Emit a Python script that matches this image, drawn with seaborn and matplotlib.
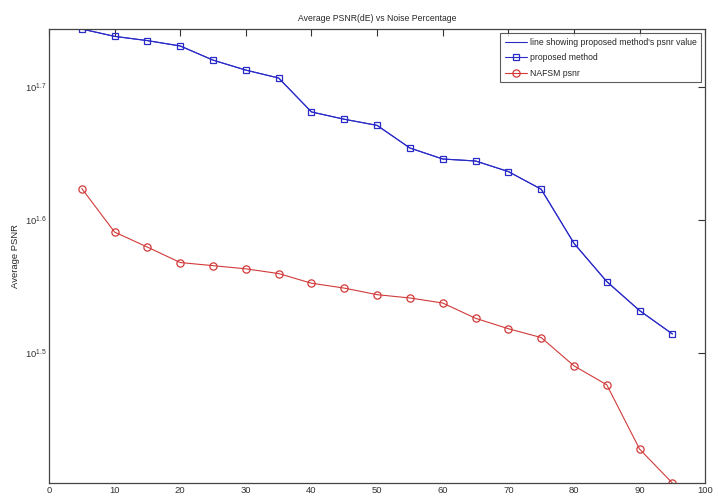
import matplotlib
matplotlib.use("Agg")
import matplotlib.pyplot as plt
from matplotlib import font_manager
import seaborn as sns

# ===============================
# Data
# ===============================
noise = [5, 10, 15, 20, 25, 30, 35, 40, 45, 50, 55, 60, 65, 70, 75, 80, 85, 90, 95]
proposed_psnr = [55.4, 54.7, 54.3, 53.8, 52.5, 51.6, 50.9, 48.0, 47.4, 46.9, 45.1,
                 44.25, 44.1, 43.3, 42.0, 38.25, 35.8, 34.05, 32.7]
nafsm_psnr = [42.05, 39.0, 38.0, 37.0, 36.8, 36.6, 36.3, 35.7, 35.4, 35.0, 34.8,
              34.5, 33.6, 33.0, 32.5, 30.95, 29.95, 26.8, 25.27]

x_ticks = [0, 10, 20, 30, 40, 50, 60, 70, 80, 90, 100]
y_ticks = [10 ** 1.5, 10 ** 1.6, 10 ** 1.7]
y_tick_labels = [r"$10^{1.5}$", r"$10^{1.6}$", r"$10^{1.7}$"]

legend_labels = ["line showing proposed method's psnr value",
                 "proposed method",
                 "NAFSM psnr"]

# ===============================
# Fonts: narrow if we have it
# ===============================
try:
    font_manager.findfont("Liberation Sans Narrow", fallback_to_default=False)
    main_font, fs, tick_fs = "Liberation Sans Narrow", 7.5, 8
except Exception:
    main_font, fs, tick_fs = "Liberation Sans", 6.2, 6.8

# ===============================
# Plot
# ===============================
sns.set_style("white")
plt.rcParams['font.family'] = [main_font, 'DejaVu Sans']
plt.rcParams['mathtext.fontset'] = 'custom'
plt.rcParams['mathtext.rm'] = main_font

fig = plt.figure(figsize=(7.18, 4.96), dpi=100)
ax = fig.add_axes([0.0682, 0.026, 0.914, 0.9155])

blue = "#2a2ac8"
red = "#d23a3a"

sns.lineplot(x=noise, y=proposed_psnr, ax=ax, color=blue, linewidth=0.8,
             label=legend_labels[0])
sns.lineplot(x=noise, y=proposed_psnr, ax=ax, color=blue, linewidth=0.8,
             marker="s", markersize=5, markerfacecolor="none",
             markeredgecolor=blue, markeredgewidth=0.9, label=legend_labels[1])
sns.lineplot(x=noise, y=nafsm_psnr, ax=ax, color=red, linewidth=0.8,
             marker="o", markersize=5.2, markerfacecolor="none",
             markeredgecolor=red, markeredgewidth=0.9, label=legend_labels[2])

ax.set_yscale("log")
ax.set_xlim(0, 100)
ax.set_ylim(min(nafsm_psnr), max(proposed_psnr))
ax.set_xticks(x_ticks)
ax.set_xticklabels([str(t) for t in x_ticks], fontsize=tick_fs)
ax.set_yticks(y_ticks)
ax.set_yticklabels(y_tick_labels, fontsize=tick_fs)
ax.minorticks_off()
ax.tick_params(axis="both", which="major", direction="in", length=5, width=0.8,
               top=True, right=True, colors="#333333", pad=2)

for side in ax.spines.values():
    side.set_color("#444444")
    side.set_linewidth(0.9)

ax.set_title("Average PSNR(dE) vs Noise Percentage", fontsize=fs, pad=6)
ax.set_ylabel("Average PSNR", fontsize=fs + 0.6, labelpad=3)
ax.set_xlabel("")

leg = ax.legend(loc="upper right", fontsize=fs, frameon=True, fancybox=False,
                edgecolor="#333333", borderaxespad=0.45, handlelength=2.6,
                handletextpad=0.3, labelspacing=0.75, borderpad=0.55)
leg.get_frame().set_linewidth(0.8)

plt.savefig("out.png", dpi=100)
